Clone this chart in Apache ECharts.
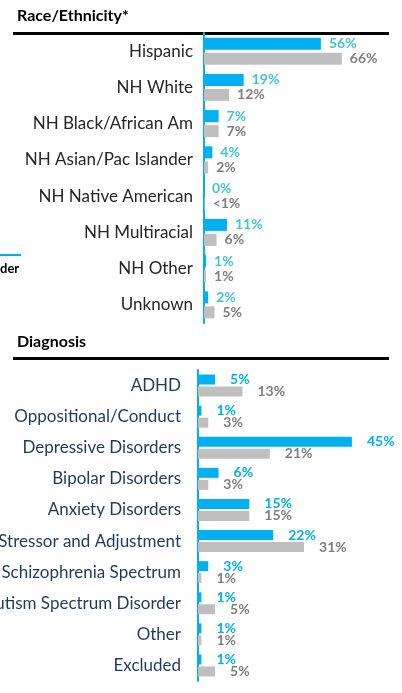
<!DOCTYPE html>
<html>
<head>
<meta charset="utf-8">
<script src="https://cdn.jsdelivr.net/npm/echarts@6/dist/echarts.min.js"></script>
<style>
  html, body { margin: 0; padding: 0; background: #fff; }
  #chart { width: 402px; height: 693px; }
</style>
</head>
<body>
<div id="chart"></div>
<script>
// Race/Ethnicity
const raceCategories = ['Hispanic', 'NH White', 'NH Black/African Am', 'NH Asian/Pac Islander',
  'NH Native American', 'NH Multiracial', 'NH Other', 'Unknown'];
const raceBlue = [56, 19, 7, 4, 0, 11, 1, 2];
const raceGray = [66, 12, 7, 2, 0.3, 6, 1, 5];
const raceGrayLabels = ['66%', '12%', '7%', '2%', '<1%', '6%', '1%', '5%'];

// Diagnosis
const diagCategories = ['ADHD', 'Oppositional/Conduct', 'Depressive Disorders', 'Bipolar Disorders',
  'Anxiety Disorders', 'Stressor and Adjustment', 'Schizophrenia Spectrum',
  'Autism Spectrum Disorder', 'Other', 'Excluded'];
const diagBlue = [5, 1, 45, 6, 15, 22, 3, 1, 1, 1];
const diagGray = [13, 3, 21, 3, 15, 31, 1, 5, 1, 5];

const BLUE = '#00B0F0';
const GRAY = '#BFBFBF';
const FONT = 'Lato';

const chart = echarts.init(document.getElementById('chart'));

function valueLabel(color, dist, formatter) {
  return {
    show: true,
    position: 'right',
    distance: dist,
    color: color,
    fontFamily: FONT,
    fontWeight: 'bold',
    fontSize: 14,
    formatter: formatter || '{c}%'
  };
}

const option = {
  animation: false,
  backgroundColor: '#fff',
  grid: [
    { left: 204, top: 33, width: 167, height: 290, outerBoundsMode: 'none', containLabel: false },
    { left: 198, top: 370, width: 171, height: 311, outerBoundsMode: 'none', containLabel: false }
  ],
  xAxis: [
    { gridIndex: 0, type: 'value', min: 0, max: 80, show: false },
    { gridIndex: 1, type: 'value', min: 0, max: 50, show: false }
  ],
  yAxis: [
    {
      gridIndex: 0, type: 'category', inverse: true, data: raceCategories,
      axisLine: { lineStyle: { color: BLUE, width: 2 } },
      axisTick: { show: false },
      axisLabel: { color: '#262626', fontFamily: FONT, fontSize: 17, margin: 11 }
    },
    {
      gridIndex: 1, type: 'category', inverse: true, data: diagCategories,
      axisLine: { lineStyle: { color: BLUE, width: 2 } },
      axisTick: { show: false },
      axisLabel: { color: '#1F3A5F', fontFamily: FONT, fontSize: 17, margin: 17 }
    }
  ],
  series: [
    {
      type: 'bar', xAxisIndex: 0, yAxisIndex: 0, data: raceBlue,
      barWidth: 12, barGap: '25%', itemStyle: { color: BLUE },
      label: valueLabel('#45C3D1', 8)
    },
    {
      type: 'bar', xAxisIndex: 0, yAxisIndex: 0, data: raceGray,
      barWidth: 12, barGap: '25%', itemStyle: { color: GRAY },
      label: valueLabel('#7F7F7F', 8, p => raceGrayLabels[p.dataIndex])
    },
    {
      type: 'bar', xAxisIndex: 1, yAxisIndex: 1, data: diagBlue,
      barWidth: 10, barGap: '20%', itemStyle: { color: BLUE },
      label: valueLabel(BLUE, 15)
    },
    {
      type: 'bar', xAxisIndex: 1, yAxisIndex: 1, data: diagGray,
      barWidth: 10, barGap: '20%', itemStyle: { color: GRAY },
      label: valueLabel('#7F7F7F', 15)
    }
  ],
  graphic: [
    { type: 'text', left: 17, top: 8, style: { text: 'Race/Ethnicity*', fill: '#000', font: 'bold 16px Lato' } },
    { type: 'rect', shape: { x: 13, y: 32, width: 376, height: 3 }, style: { fill: '#000' } },
    { type: 'text', left: 17, top: 334, style: { text: 'Diagnosis', fill: '#000', font: 'bold 16px Lato' } },
    { type: 'rect', shape: { x: 13, y: 357, width: 376, height: 3 }, style: { fill: '#000' } },
    // cut-off legend entry on the left edge
    { type: 'rect', shape: { x: 0, y: 254, width: 21, height: 2 }, style: { fill: BLUE } },
    { type: 'text', left: 0, top: 262, style: { text: 'der', fill: '#000', font: 'bold 13px Lato' } }
  ]
};

chart.setOption(option);
</script>
</body>
</html>
